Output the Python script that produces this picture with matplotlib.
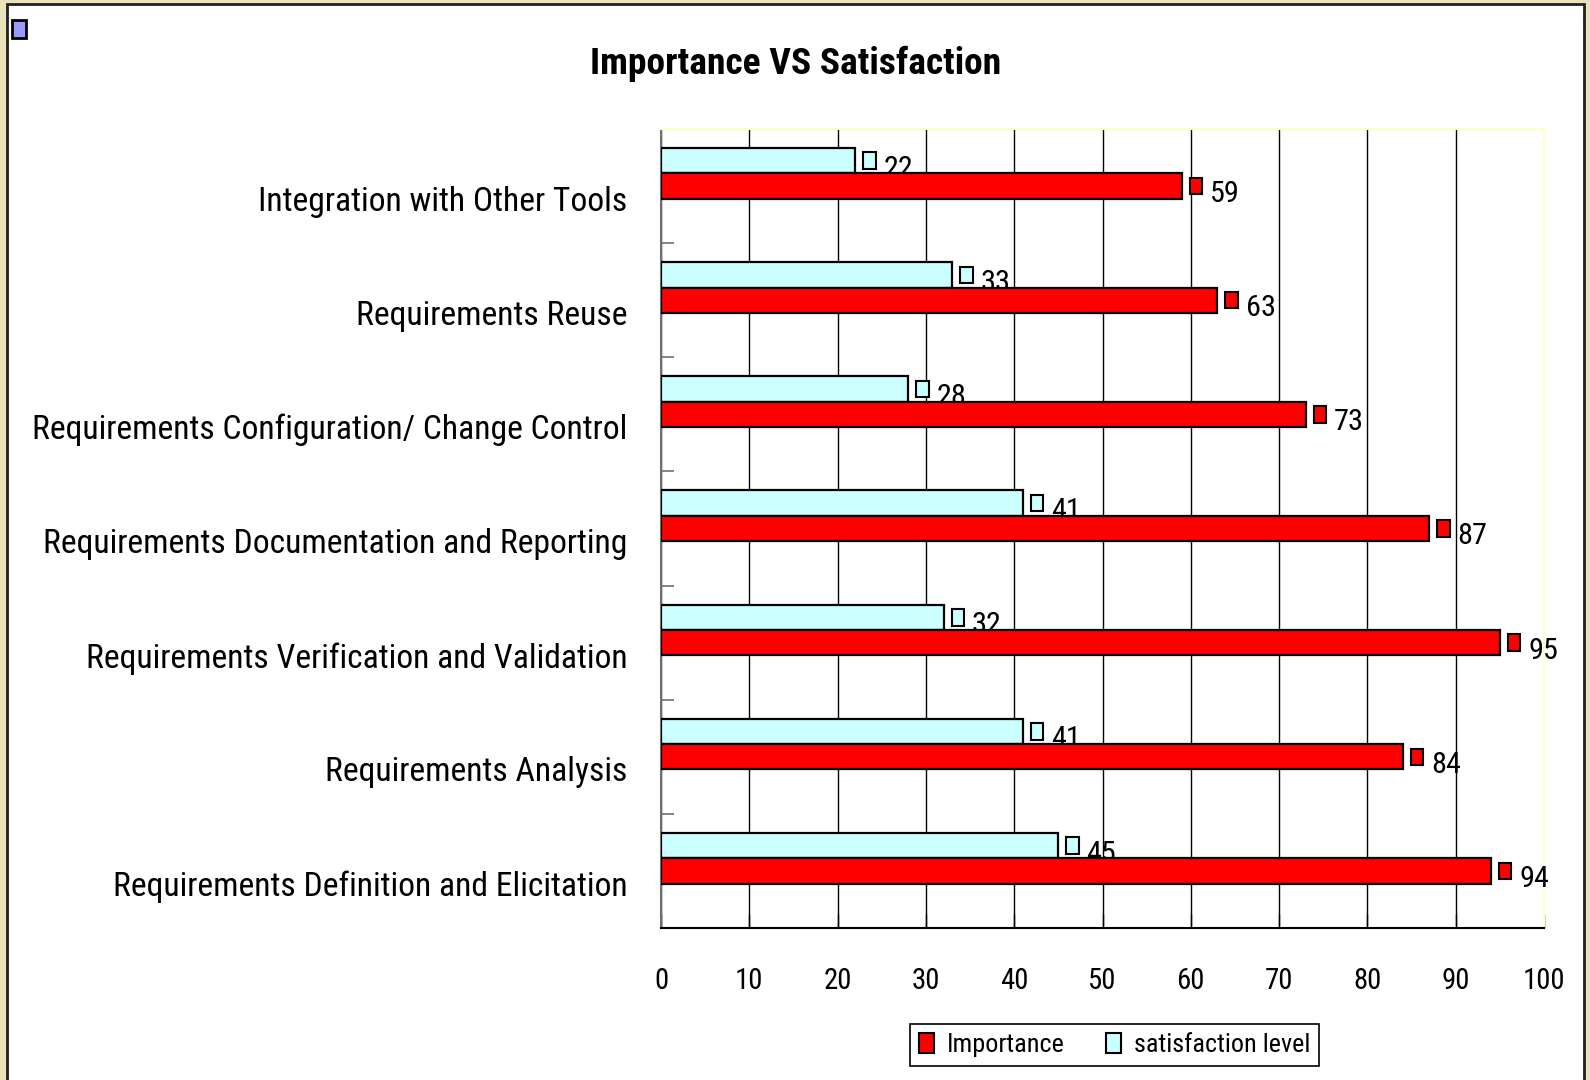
import matplotlib
matplotlib.use("Agg")
import matplotlib.pyplot as plt
from matplotlib.patches import Rectangle
from matplotlib import font_manager
from matplotlib.font_manager import FontProperties
import numpy as np

categories = [
    "Integration with Other Tools",
    "Requirements Reuse",
    "Requirements Configuration/ Change Control",
    "Requirements Documentation and Reporting",
    "Requirements Verification and Validation",
    "Requirements Analysis",
    "Requirements Definition and Elicitation",
]
importance = [59, 63, 73, 87, 95, 84, 94]
satisfaction = [22, 33, 28, 41, 32, 41, 45]
xticks = [0, 10, 20, 30, 40, 50, 60, 70, 80, 90, 100]
title = "Importance VS Satisfaction"
legend_labels = ["Importance", "satisfaction level"]

RED = "#FF0000"
CYAN = "#CCFFFF"
BEIGE = "#EAE3B9"

W, H = 1590, 1080
DPI = 100
fig = plt.figure(figsize=(W / DPI, H / DPI), dpi=DPI)
renderer = fig.canvas.get_renderer()


def text_width_em(s, fp):
    t = fig.text(0, 0, s, fontproperties=fp, fontsize=100)
    w = t.get_window_extent(renderer).width
    t.remove()
    return w / (100 * DPI / 72.0)


def is_regular(f):
    return f.style == "normal" and str(f.weight) in ("400", "normal", "regular", "book")


def is_bold(f):
    return f.style == "normal" and str(f.weight) in ("600", "700", "bold", "semibold", "demibold")


def looks_narrow(f):
    nm = f.name.lower()
    st = str(f.stretch).lower()
    return ("narrow" in nm or "condensed" in nm or "condensed" in st
            or (st.isdigit() and int(st) < 500))


def sans_ok(f):
    nm = f.name.lower()
    if "mono" in nm or "cjk" in nm:
        return False
    if "serif" in nm and "sans" not in nm:
        return False
    return True


GROTESQUE = ["liberation sans narrow", "arial narrow", "nimbus sans narrow",
             "helvetica", "roboto", "liberation", "arial", "nimbus sans",
             "noto sans", "dejavu sans", "open sans", "inter"]


def pref_penalty(f):
    nm = f.name.lower()
    for i, g in enumerate(GROTESQUE):
        if g in nm:
            return i * 0.15
    return 3.0


sample = "Requirements Documentation and Reporting"
entries = font_manager.fontManager.ttflist
cands = [f for f in entries if is_regular(f) and sans_ok(f) and looks_narrow(f)]
best = None
best_score = None
for f in cands:
    try:
        fp = FontProperties(fname=f.fname)
        wem = text_width_em(sample, fp)
    except Exception:
        continue
    if wem > 21 or wem < 13:
        continue
    score = abs(wem - 16.5) + pref_penalty(f)
    if best_score is None or score < best_score:
        best, best_score = f, score

if best is not None:
    FP = FontProperties(fname=best.fname)
    bolds = [f for f in entries if f.name == best.name and is_bold(f)
             and str(f.stretch) == str(best.stretch)]
    FPB = FontProperties(fname=bolds[0].fname) if bolds else FontProperties(fname=best.fname, weight="bold")
else:
    FP = FontProperties(family=["Liberation Sans", "DejaVu Sans"])
    FPB = FontProperties(family=["Liberation Sans", "DejaVu Sans"], weight="bold")


def fit_size(s, fp, target_w_px, cap_px, slack=1.0):
    wem = text_width_em(s, fp)
    size_w = target_w_px * slack / wem * 72.0 / DPI
    size_h = cap_px / 0.72 * 72.0 / DPI
    return min(size_w, size_h)


fs_cat = fit_size("Requirements Configuration/ Change Control", FP, 596, 27)
fs_tick = fit_size("100", FP, 34, 22, slack=1.25)
fs_val = fit_size("95", FP, 23, 23, slack=1.3)
fs_title = fit_size(title, FPB, 411, 27)
fs_leg = fit_size("satisfaction level", FP, 176, 20)

fig.patch.set_facecolor(BEIGE)

# white chart area with dark border
fig.add_artist(Rectangle((7 / W, -0.05), (1584 - 7) / W, 1 - 4 / H + 0.05,
                         transform=fig.transFigure, facecolor="white",
                         edgecolor="#202020", linewidth=2, zorder=0))
# small decorative key in the top-left corner
fig.add_artist(Rectangle((12 / W, 1 - 38 / H), 14 / W, 18 / H,
                         transform=fig.transFigure, facecolor="#9999FF",
                         edgecolor="black", linewidth=2, zorder=1))

ax = fig.add_axes([661 / W, 1 - 928 / H, (1544 - 661) / W, (928 - 129) / H])
ax.set_facecolor("white")
ax.set_axisbelow(True)

n = len(categories)
ypos = np.arange(n)[::-1].astype(float)
h = 0.222

imp_c = ypos
sat_c = ypos + h

ax.barh(imp_c, importance, height=h, color=RED, edgecolor="black",
        linewidth=1.6, zorder=4)
ax.barh(sat_c, satisfaction, height=h, color=CYAN, edgecolor="black",
        linewidth=1.6, zorder=3)

sq_w, sq_h = 1.4, 0.145
for vals, yc, col, zt in [(importance, imp_c, RED, 5), (satisfaction, sat_c, CYAN, 2.5)]:
    for v, y in zip(vals, yc):
        ax.add_patch(Rectangle((v + 0.9, y - sq_h / 2), sq_w, sq_h, facecolor=col,
                               edgecolor="black", linewidth=1.5, zorder=zt))
        ax.text(v + 3.2, y - 0.07, str(v), ha="left", va="center",
                fontproperties=FP, fontsize=fs_val, zorder=zt, color="black")

ax.set_xlim(0, 100)
ax.set_ylim(-0.5, n - 0.5)
ax.set_xticks(xticks)
ax.set_xticklabels([str(t) for t in xticks])
for lab in ax.get_xticklabels():
    lab.set_fontproperties(FP)
    lab.set_fontsize(fs_tick)
ax.tick_params(axis="x", direction="in", length=10, width=1, pad=28, color="black")
ax.xaxis.grid(True, color="black", linewidth=1)

ax.set_yticks(ypos - 0.107)
ax.set_yticklabels(categories)
for lab in ax.get_yticklabels():
    lab.set_fontproperties(FP)
    lab.set_fontsize(fs_cat)
ax.tick_params(axis="y", which="major", length=0, pad=24)
ax.set_yticks(np.arange(n + 1) - 0.5, minor=True)
ax.tick_params(axis="y", which="minor", direction="in", length=9, width=1.2, color="#707070")

ax.spines["left"].set_color("#707070")
ax.spines["left"].set_linewidth(1.5)
ax.spines["bottom"].set_color("black")
ax.spines["bottom"].set_linewidth(1.5)
ax.spines["top"].set_color("#FFFFC8")
ax.spines["right"].set_color("#FFFFC8")
ax.spines["top"].set_linewidth(1.5)
ax.spines["right"].set_linewidth(1.5)

fig.text(796 / W, 1 - 64 / H, title, ha="center", va="center",
         fontproperties=FPB, fontsize=fs_title)

handles = [Rectangle((0, 0), 1, 1, facecolor=RED, edgecolor="black", linewidth=1.5),
           Rectangle((0, 0), 1, 1, facecolor=CYAN, edgecolor="black", linewidth=1.5)]
legprop = FP.copy()
legprop.set_size(fs_leg)
leg = fig.legend(handles, legend_labels, loc="upper left",
                 bbox_to_anchor=(910 / W, 1 - 1024 / H), ncol=2, prop=legprop,
                 frameon=True, fancybox=False, edgecolor="black", framealpha=1,
                 handlelength=0.55, handleheight=0.8, handletextpad=0.5,
                 columnspacing=1.6, borderpad=0.35, borderaxespad=0)
leg.get_frame().set_linewidth(1.2)

fig.savefig("out.png", dpi=DPI, facecolor=fig.get_facecolor())
